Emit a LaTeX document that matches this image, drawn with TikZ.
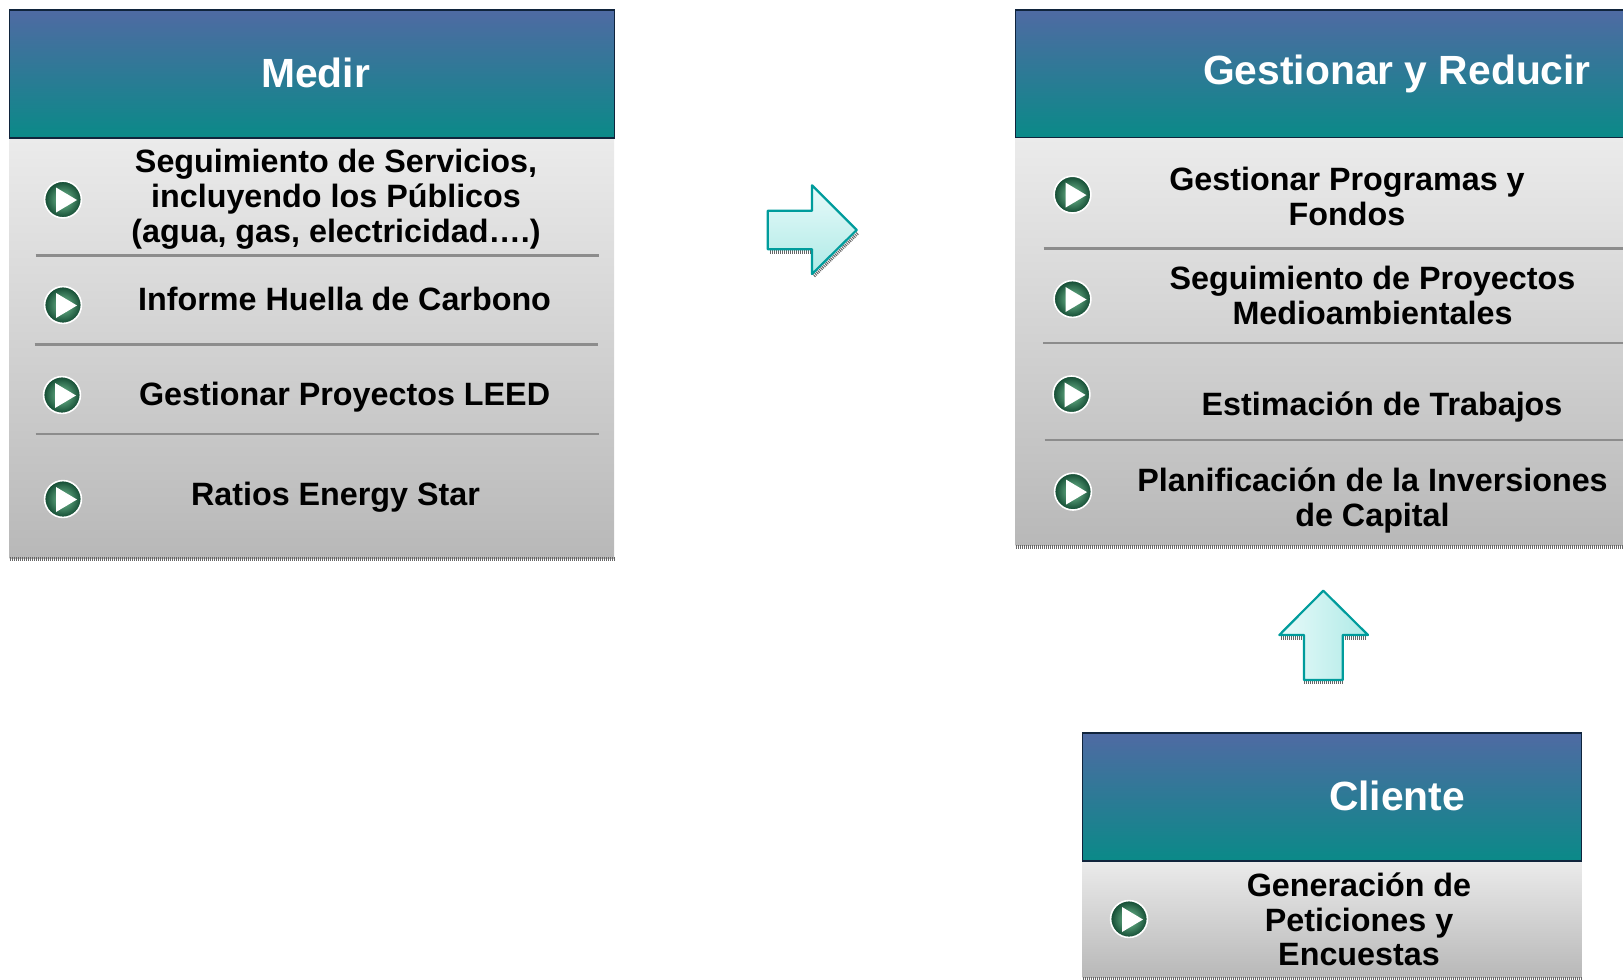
\documentclass[tikz,border=0pt]{standalone}
\usepackage{fontspec}
\setmainfont{Liberation Sans}
\usetikzlibrary{calc}
\definecolor{hdtop}{HTML}{4F6AA3}
\definecolor{hdbot}{HTML}{0A8A88}
\definecolor{gtop}{HTML}{EBEBEB}
\definecolor{gbot}{HTML}{B8B8B8}
\definecolor{teal1}{HTML}{009C9C}
\definecolor{arlight}{HTML}{E8FAFA}
\definecolor{ardark}{HTML}{AEEAE6}
\definecolor{navy1}{HTML}{10243C}
\definecolor{BulIn}{HTML}{78C498}
\definecolor{BulOut}{HTML}{124A32}
\tikzset{
  x=0.5pt,y=-0.5pt,
  hdr/.style={shade,top color=hdtop,bottom color=hdbot,draw=navy1,line width=0.6pt},
  body/.style={shade,top color=gtop,bottom color=gbot},
  rulebar/.style={draw=black!45,line width=1.2pt},
  stip/.style={draw=black!60,line width=2pt,dash pattern=on 0.5pt off 0.5pt},
  title/.style={text=white,font=\fontsize{20.4}{25}\selectfont\bfseries,inner sep=0pt,align=center},
  item/.style={text=black,font=\fontsize{16.15}{17.4}\selectfont\bfseries,inner sep=0pt,align=center},
  bull/.style={circle,draw=white,line width=0.8pt,minimum size=18.4pt,inner sep=0pt,
    shade,inner color=BulIn,outer color=BulOut,
    path picture={\fill[white,shift={(path picture bounding box.center)}] (-7,-12)--(14,0.5)--(-7,13)--cycle;}},
  arrowout/.style={draw=teal1,line width=1.1pt,line join=round},
}
\begin{document}
\begin{tikzpicture}
\useasboundingbox (0,0) rectangle (1623,980);
% Medir
\path[body] (9.5,138) rectangle (614,558);
\draw[stip] (9.5,559) -- (614,559);
\path[hdr] (9.5,10) rectangle (614.5,138);
\node[title] (tm) at (315.5,72.5) {Medir};
\draw[rulebar] (35.5,255.6) -- (599,255.6);
\draw[rulebar] (34.5,344.6) -- (598,344.6);
\draw[rulebar] (35.5,434) -- (599,434);
\node[bull] (b1) at (63,199.5) {};
\node[bull] (b2) at (63,305) {};
\node[bull] (b3) at (62,395) {};
\node[bull] (b4) at (63,499) {};
\node[item] (m1) at (336,199.5) {Seguimiento de Servicios,\\incluyendo los Públicos\\(agua, gas, electricidad….)};
\node[item] (m2) at (344.6,299) {Informe Huella de Carbono};
\node[item] (m3) at (344.6,397) {Gestionar Proyectos LEED};
\node[item] (m4) at (335.5,497.5) {Ratios Energy Star};
% Gestionar
\path[body] (1015.5,137.5) rectangle (1623,545);
\draw[stip] (1015.5,546.5) -- (1623,546.5);
\path[hdr] (1015.5,10) rectangle (1630,137.5);
\node[title] (tg) at (1397,74) {Gestionar y Reducir};
\draw[rulebar] (1043.5,248.5) -- (1623,248.5);
\draw[rulebar] (1043,343) -- (1623,343);
\draw[rulebar] (1044.5,440) -- (1623,440);
\node[bull] (c1) at (1072.5,194.6) {};
\node[bull] (c2) at (1072.5,299) {};
\node[bull] (c3) at (1071.5,394.4) {};
\node[bull] (c4) at (1073,491.6) {};
\node[item] (g1) at (1347,196.5) {Gestionar Programas y\\Fondos};
\node[item] (g2) at (1372.5,295.5) {Seguimiento de Proyectos\\Medioambientales};
\node[item] (g3) at (1382,407) {Estimación de Trabajos};
\node[item] (g4) at (1372.5,500.5) {Planificación de la Inversiones\\de Capital};
% Cliente
\path[body] (1082.5,861) rectangle (1581.7,977.5);
\draw[stip] (1082.5,979) -- (1581.7,979);
\path[hdr] (1082.5,733) rectangle (1581.7,861);
\node[title] (tc) at (1397,795.5) {Cliente};
\node[bull] (d1) at (1129,919) {};
\node[item] (k1) at (1359,919.5) {Generación de\\Peticiones y\\Encuestas};
% right arrow
\draw[stip,line width=1.6pt] (770,252) -- (814,252);
\draw[stip,line width=1.6pt] (814,276) -- (858,233);
\path[arrowout,shade,top color=arlight,bottom color=ardark,draw=teal1]
  (767.7,210.7) -- (812,210.7) -- (812,185.3) -- (856.7,230) -- (812,274) -- (812,249.3) -- (767.7,249.3) -- cycle;
% up arrow
\draw[stip,line width=1.6pt] (1281,638) -- (1304,638);
\draw[stip,line width=1.6pt] (1343,638) -- (1367,638);
\draw[stip,line width=1.6pt] (1304,682.5) -- (1343,682.5);
\path[arrowout,shade,left color=arlight,right color=ardark,draw=teal1]
  (1323.3,590.7) -- (1368,635) -- (1342.7,635) -- (1342.7,680) -- (1304,680) -- (1304,635) -- (1279.3,635) -- cycle;
\end{tikzpicture}
\end{document}
